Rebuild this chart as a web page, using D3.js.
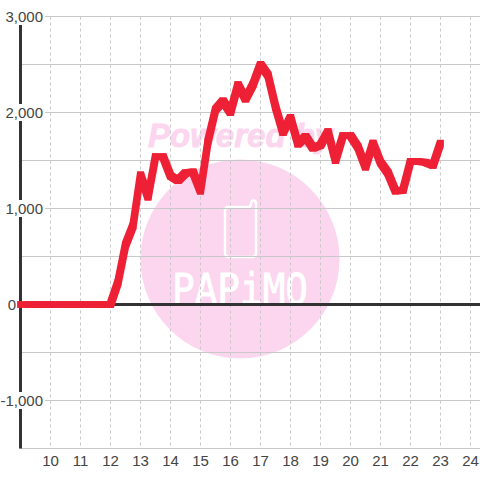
<!DOCTYPE html>
<html>
<head>
<meta charset="utf-8">
<script src="https://cdn.jsdelivr.net/npm/d3@7"></script>
<style>
  html, body { margin: 0; padding: 0; background: #fff; }
  text { font-family: "Liberation Sans", Arial, sans-serif; }
</style>
</head>
<body>
<svg id="chart" width="480" height="480" style="display:block"></svg>
<script>
// hours of the day, one reading every 15 minutes
var hours = [9, 9.25, 9.5, 9.75, 10, 10.25, 10.5, 10.75, 11, 11.25, 11.5, 11.75, 12, 12.25, 12.5, 12.75,
    13, 13.25, 13.5, 13.75, 14, 14.25, 14.5, 14.75, 15, 15.25, 15.5, 15.75, 16, 16.25, 16.5, 16.75,
    17, 17.25, 17.5, 17.75, 18, 18.25, 18.5, 18.75, 19, 19.25, 19.5, 19.75, 20, 20.25, 20.5, 20.75,
    21, 21.25, 21.5, 21.75, 22, 22.25, 22.5, 22.75, 23];
var values = [0, 0, 0, 0, 0, 0, 0, 0, 0, 0, 0, 0, 0, 230, 620, 820,
    1350, 1120, 1540, 1540, 1340, 1290, 1370, 1380, 1180, 1700, 2030, 2120, 2000, 2290, 2140, 2290,
    2500, 2390, 2060, 1790, 1950, 1670, 1750, 1630, 1660, 1800, 1500, 1760, 1760, 1640, 1430, 1680,
    1480, 1370, 1180, 1190, 1490, 1490, 1480, 1450, 1680];
var xTicks = [10, 11, 12, 13, 14, 15, 16, 17, 18, 19, 20, 21, 22, 23, 24];
var yGrid = [-1500, -1000, -500, 0, 500, 1000, 1500, 2000, 2500, 3000];
var yLabels = [-1000, 0, 1000, 2000, 3000];

var svg = d3.select("#chart");

var x = d3.scaleLinear().domain([9, 24]).range([20.5, 470.5]);
var y = d3.scaleLinear().domain([-1500, 3000]).range([448.5, 16.5]);

// watermark sits under the grid
var mark = svg.append("g");
mark.append("circle").attr("cx", 240).attr("cy", 259).attr("r", 99.5).attr("fill", "#fbd6ee");
mark.append("text")
    .attr("x", 148).attr("y", 147)
    .attr("font-size", 33).attr("font-weight", "bold").attr("font-style", "italic")
    .attr("fill", "#fbd6ee").attr("stroke", "#fbd6ee").attr("stroke-width", 0.8)
    .text("Powered by");
mark.append("path")
    .attr("d", "M228 207H248Q251 207 251 204 Q251 200.5 253.5 200.5 Q256 200.5 256 204V253Q256 257 252 257H229Q225 257 225 253V211Q225 207 228 207Z")
    .attr("fill", "none").attr("stroke", "#fff").attr("stroke-width", 2.5);
mark.append("text")
    .attr("x", 172).attr("y", 304)
    .attr("textLength", 136).attr("lengthAdjust", "spacingAndGlyphs")
    .attr("font-size", 42)
    .attr("style", "font-family:'DejaVu Sans Mono'")
    .attr("fill", "#fff").attr("stroke", "#fff").attr("stroke-width", 0.8)
    .text("PAPiMO");

// horizontal grid
svg.append("g").selectAll("line").data(yGrid).join("line")
    .attr("x1", function(d) { return d % 1000 == 0 && d != -1500 ? 45 : 20; })
    .attr("x2", 480)
    .attr("y1", function(d) { return y(d); })
    .attr("y2", function(d) { return y(d); })
    .attr("stroke", "#c8c8c8").attr("stroke-width", 1);

// vertical grid
svg.append("g").selectAll("line").data(xTicks).join("line")
    .attr("x1", function(d) { return x(d); })
    .attr("x2", function(d) { return x(d); })
    .attr("y1", y(3000))
    .attr("y2", y(-1500))
    .attr("stroke", "#c8c8c8").attr("stroke-dasharray", "3,3");

// axis lines
svg.append("line")
    .attr("x1", x(9)).attr("x2", x(9)).attr("y1", 16).attr("y2", y(-1500))
    .attr("stroke", "#333").attr("stroke-width", 3);
svg.append("line")
    .attr("x1", x(9)).attr("x2", 480).attr("y1", y(0)).attr("y2", y(0))
    .attr("stroke", "#333").attr("stroke-width", 3);

// the series looks drawn with a square brush: flat ends, thicker on diagonals.
// each segment is the hull of two squares around its points
var brush = 3.4;
function corners(i) {
    var px = x(hours[i]), py = y(values[i]);
    return [[px - brush, py - brush], [px + brush, py - brush], [px + brush, py + brush], [px - brush, py + brush]];
}
var segments = d3.pairs(d3.range(hours.length));
svg.append("g").selectAll("path").data(segments).join("path")
    .attr("d", function(d) {
        return "M" + d3.polygonHull(corners(d[0]).concat(corners(d[1]))).join("L") + "Z";
    })
    .attr("fill", "#ee2035");

// y labels knock a gap out of the axis line
var labels = svg.append("g").selectAll("g").data(yLabels).join("g");
labels.append("text")
    .attr("x", function(d) { return d == 0 ? 16 : 43; })
    .attr("y", function(d) { return y(d) + 5.5; })
    .attr("text-anchor", "end")
    .attr("font-size", 15)
    .attr("fill", "#444")
    .text(function(d) { return d3.format(",")(d).replace("\u2212", "-"); });
labels.insert("rect", "text")
    .each(function() {
        var b = this.parentNode.querySelector("text").getBBox();
        d3.select(this).attr("x", b.x).attr("y", b.y).attr("width", b.width).attr("height", b.height);
    })
    .attr("fill", "#fff");

svg.append("g").selectAll("text").data(xTicks).join("text")
    .attr("x", function(d) { return x(d); })
    .attr("y", 466)
    .attr("text-anchor", "middle")
    .attr("font-size", 15)
    .attr("fill", "#444")
    .text(function(d) { return d; });
</script>
</body>
</html>
